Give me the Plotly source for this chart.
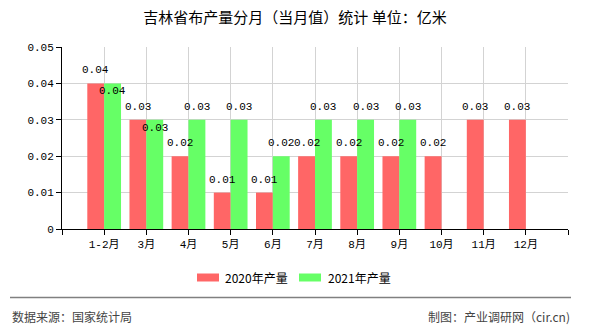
import plotly.graph_objects as go

categories = ["1-2月", "3月", "4月", "5月", "6月", "7月", "8月", "9月", "10月", "11月", "12月"]
series_2020 = [0.04, 0.03, 0.02, 0.01, 0.01, 0.02, 0.02, 0.02, 0.02, 0.03, 0.03]
series_2021 = [0.04, 0.03, 0.03, 0.03, 0.02, 0.03, 0.03, 0.03, None, None, None]
series_names = ["2020年产量", "2021年产量"]
colors = ["#ff6666", "#66ff66"]
title_text = "吉林省布产量分月（当月值）统计 单位：亿米"
source_text = "数据来源：国家统计局"
credit_text = "制图：产业调研网（cir.cn)"

WIDTH, HEIGHT = 590, 330
L, R, T, B = 62, 568, 47, 229
PW, PH = R - L, B - T

def px_x(px):
    return (px - L) / PW

def px_y(py):
    return (B - py) / PH

NUM_FONT = "Liberation Mono, Noto Sans CJK SC, monospace"
CJK_FONT = "Noto Sans CJK SC, sans-serif"

xs = list(range(len(categories)))
fig = go.Figure()
for name, vals, col in zip(series_names, [series_2020, series_2021], colors):
    fig.add_trace(go.Bar(x=xs, y=vals, name=name, marker=dict(color=col, line=dict(width=0)),
                         showlegend=False, hoverinfo="x+y"))

annotations = []
# data labels
for i in xs:
    r = series_2020[i]
    g = series_2021[i]
    if r is not None:
        annotations.append(dict(x=i - 0.2, y=r, xref="x", yref="y", text=f"{r:.2f}",
                                showarrow=False, yshift=13, yanchor="middle", xanchor="center",
                                font=dict(family=NUM_FONT, size=11, color="#000")))
    if g is not None:
        shift = -8 if (r is not None and abs(r - g) < 1e-9) else 13
        annotations.append(dict(x=i + 0.2, y=g, xref="x", yref="y", text=f"{g:.2f}",
                                showarrow=False, yshift=shift, yanchor="middle", xanchor="center",
                                font=dict(family=NUM_FONT, size=11, color="#000")))

shapes = []
# manual legend
legend_items = [(197, 223), (299, 326)]
for (sx, tx), name, col in zip(legend_items, series_names, colors):
    shapes.append(dict(type="rect", xref="paper", yref="paper",
                       x0=px_x(sx), x1=px_x(sx + 22), y0=px_y(281.5), y1=px_y(273.5),
                       fillcolor=col, line=dict(width=0)))
    annotations.append(dict(x=px_x(tx), y=px_y(277.7), xref="paper", yref="paper", text=name,
                            showarrow=False, xanchor="left", yanchor="middle",
                            font=dict(family=CJK_FONT, size=12, color="#000")))

# footer
shapes.append(dict(type="line", xref="paper", yref="paper", x0=px_x(10), x1=px_x(571),
                   y0=px_y(297.5), y1=px_y(297.5), line=dict(color="#808080", width=1.5)))
annotations.append(dict(x=px_x(10), y=px_y(316), xref="paper", yref="paper", text=source_text,
                        showarrow=False, xanchor="left", yanchor="middle",
                        font=dict(family=CJK_FONT, size=12, color="#444")))
annotations.append(dict(x=px_x(572), y=px_y(316), xref="paper", yref="paper", text=credit_text,
                        showarrow=False, xanchor="right", yanchor="middle",
                        font=dict(family=CJK_FONT, size=12, color="#444")))

fig.update_layout(
    width=WIDTH, height=HEIGHT,
    margin=dict(l=L, r=WIDTH - R, t=T, b=HEIGHT - B, pad=0),
    paper_bgcolor="white", plot_bgcolor="white",
    barmode="group", bargap=0.2, bargroupgap=0,
    title=dict(text=title_text, x=0.5, xref="container", xanchor="center",
               y=1 - 18 / HEIGHT, yref="container", yanchor="middle",
               font=dict(family=CJK_FONT, size=15, color="#000")),
    showlegend=False,
    annotations=annotations,
    shapes=shapes,
    xaxis=dict(type="linear", range=[-1, len(categories)],
               tickmode="array", tickvals=list(range(-1, len(categories) + 1)),
               ticktext=[""] + categories + [""],
               showgrid=True, gridcolor="#d3d3d3", gridwidth=1,
               showline=True, linecolor="#000", linewidth=1,
               ticks="outside", ticklen=5, tickcolor="#000",
               zeroline=False, fixedrange=True,
               tickfont=dict(family=NUM_FONT, size=11, color="#000")),
    yaxis=dict(range=[0, 0.05], dtick=0.01, tick0=0,
               showgrid=True, gridcolor="#d3d3d3", gridwidth=1,
               showline=True, linecolor="#000", linewidth=1,
               ticks="outside", ticklen=5, tickcolor="#000",
               zeroline=False, fixedrange=True,
               tickfont=dict(family=NUM_FONT, size=11, color="#000")),
)

fig.write_html("out.html")
